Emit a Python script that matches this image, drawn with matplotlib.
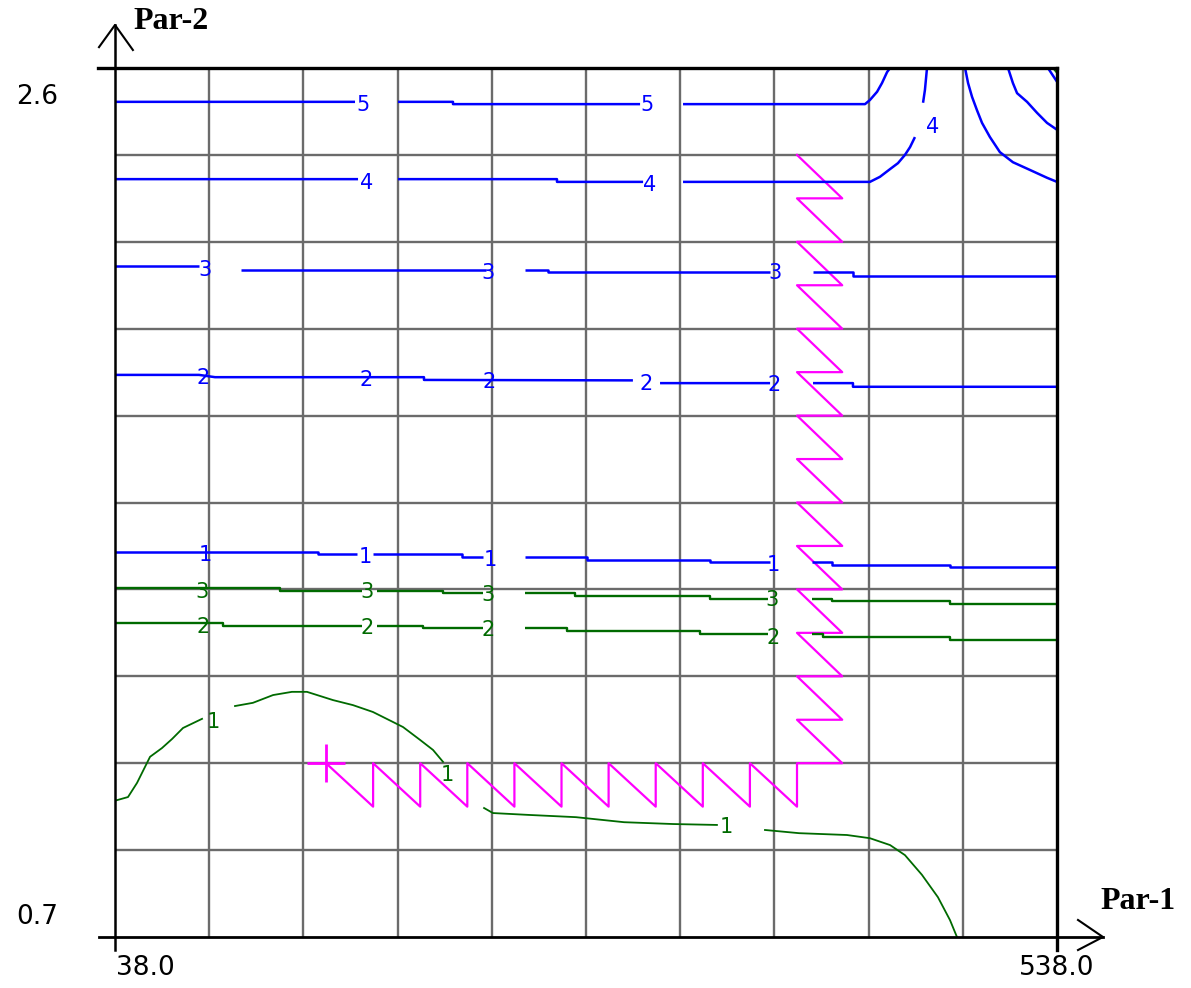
import matplotlib
matplotlib.use('Agg')
import matplotlib.pyplot as plt
import numpy as np

nan = np.nan

# ---- axis ranges / labels ----
X_MIN, X_MAX = 38.0, 538.0
Y_MIN, Y_MAX = 0.7, 2.6
x_grid = [88, 138, 188, 238, 288, 338, 388, 438, 488]
y_grid = [0.89, 1.08, 1.27, 1.46, 1.65, 1.84, 2.03, 2.22, 2.41]

# ---- blue contours (levels 1..5) ----
b5_x = [38, 165.4, nan, 188.2, 217.4, 217.4, 316.7, nan, 339.5, 436.1, 438.7, 442.5, 445.1, 447.8, 449.4]
b5_y = [2.526, 2.526, nan, 2.526, 2.526, 2.521, 2.521, nan, 2.521, 2.521, 2.530, 2.548, 2.567, 2.591, 2.6]
b5r_x = [512.0, 514.6, 516.8, 522.1, 527.4, 532.7, 538]
b5r_y = [2.6, 2.567, 2.545, 2.526, 2.502, 2.480, 2.465]

b4_x = [38, 167.0, nan, 188.2, 272.6, 272.6, 318.3, nan, 339.5, 438.7, 444.0, 449.4, 453.6,
        457.3, 460.0, 462.6, nan, 466.9, 467.9, 469.0]
b4_y = [2.357, 2.357, nan, 2.357, 2.357, 2.351, 2.351, nan, 2.351, 2.351, 2.362, 2.379, 2.392,
        2.410, 2.427, 2.449, nan, 2.524, 2.552, 2.6]
b4r_x = [489.2, 490.8, 492.9, 495.5, 498.2, 502.4, 507.7, 514.6, 523.7, 532.7, 538]
b4r_y = [2.6, 2.567, 2.537, 2.508, 2.480, 2.449, 2.416, 2.394, 2.377, 2.360, 2.351]
b6_x = [533.2, 538]
b6_y = [2.6, 2.57]

b3_x = [38, 82.6, nan, 104.9, 234.9, nan, 255.6, 267.8, 267.8, 385.7, nan, 408.5, 429.7, 429.7, 538]
b3_y = [2.166, 2.166, nan, 2.158, 2.158, nan, 2.158, 2.158, 2.153, 2.153, nan, 2.153, 2.153, 2.146, 2.146]

b2_x = [38, 82.6, 91.1, 202, 202, 312.9, nan, 327.3, 385.7, nan, 408.5, 429.7, 429.7, 538]
b2_y = [1.929, 1.929, 1.924, 1.924, 1.918, 1.917, nan, 1.911, 1.911, nan, 1.911, 1.911, 1.903, 1.903]

b1_x = [38, 145.8, 145.8, 166.5, nan, 174.9, 222.2, 222.2, 233.3, nan, 255.6, 288.5, 288.5, 353.8,
        353.8, 385.7, nan, 408, 418.6, 418.6, 481.2, 481.2, 538]
b1_y = [1.542, 1.542, 1.537, 1.537, nan, 1.537, 1.537, 1.530, 1.530, nan, 1.530, 1.530, 1.524, 1.524,
        1.519, 1.519, nan, 1.519, 1.519, 1.513, 1.513, 1.509, 1.509]

# ---- green contours (levels 1..3) ----
g3_x = [38, 125.6, 125.6, 169.1, nan, 177.1, 212.1, 212.1, 233.3, nan, 255.6, 282.2, 282.2, 353.8,
        353.8, 384.6, nan, 408, 418.6, 418.6, 481.2, 481.2, 538]
g3_y = [1.462, 1.462, 1.457, 1.457, nan, 1.457, 1.457, 1.453, 1.453, nan, 1.453, 1.453, 1.445, 1.445,
        1.440, 1.440, nan, 1.440, 1.440, 1.435, 1.435, 1.428, 1.428]

g2_x = [38, 95.3, 95.3, 169.1, nan, 177.1, 201.5, 201.5, 233.3, nan, 255.6, 277.9, 277.9, 348.5,
        348.5, 384.6, nan, 408, 413.8, 413.8, 481.2, 481.2, 538]
g2_y = [1.386, 1.386, 1.380, 1.380, nan, 1.380, 1.380, 1.375, 1.375, nan, 1.375, 1.375, 1.369, 1.369,
        1.362, 1.362, nan, 1.362, 1.362, 1.355, 1.355, 1.349, 1.349]

g1_x = [38, 44.9, 49.7, 56.6, 62.9, 68.3, 74.1, 84.2, nan,
        101.7, 111.2, 121.9, 131.9, 139.9, 153.7, 164.3, 174.9, 185.6, 190.9, 199.9, 206.8, 212.1, nan,
        233.9, 238.6, 257.2, 282.7, 308.2, 334.2, 357.5, nan,
        383.0, 401.1, 426.5, 438.7, 449.4, 457.3, 466.3, 474.8, 481.2, 484.9]
g1_y = [0.998, 1.006, 1.037, 1.094, 1.113, 1.133, 1.157, 1.177, nan,
        1.205, 1.212, 1.229, 1.236, 1.236, 1.218, 1.207, 1.192, 1.170, 1.159, 1.131, 1.109, 1.083, nan,
        0.982, 0.971, 0.967, 0.962, 0.951, 0.947, 0.945, nan,
        0.934, 0.927, 0.923, 0.916, 0.901, 0.879, 0.836, 0.787, 0.737, 0.7]
g4_x = [536.0, 538]
g4_y = [2.6, 2.59]

# ---- contour labels (x, y, text) ----
blue_lbl_x = [169.6, 320.4, 171.8, 322.0, 472.2, 85.8, 236.0, 388.3,
              84.7, 171.2, 236.5, 319.9, 387.8, 85.8, 170.7, 237.0, 387.3]
blue_lbl_y = [2.519, 2.519, 2.349, 2.345, 2.471, 2.158, 2.152, 2.152,
              1.922, 1.918, 1.913, 1.909, 1.907, 1.535, 1.531, 1.524, 1.513]
blue_lbl_t = ['5', '5', '4', '4', '4', '3', '3', '3', '2', '2', '2', '2', '2', '1', '1', '1', '1']
green_lbl_x = [84.2, 171.8, 236.0, 386.7, 84.7, 171.8, 236.0, 387.3, 90.0, 214.2, 362.3]
green_lbl_y = [1.454, 1.454, 1.448, 1.437, 1.378, 1.376, 1.371, 1.354, 1.170, 1.054, 0.940]
green_lbl_t = ['3', '3', '3', '3', '2', '2', '2', '2', '1', '1', '1']

# ---- magenta hatched boundary (corner and tooth size) ----
bnd_x0, bnd_x1 = 150, 400        # bottom edge from x0 to corner x1
bnd_y0, bnd_y1 = 1.08, 2.41      # right edge from corner y0 up to y1
tooth_dx, tooth_dy = 25, 0.095

BLUE = '#0000ff'
GREEN = '#006a00'
MAG = '#ff00ff'

fig = plt.figure(figsize=(11.91, 9.88), dpi=100)
ax = fig.add_axes([115/1191, 51/988, 942/1191, 869/988])
ax.set_xlim(X_MIN, X_MAX)
ax.set_ylim(Y_MIN, Y_MAX)
ax.set_xticks(x_grid)
ax.set_yticks(y_grid)
ax.tick_params(length=0, labelbottom=False, labelleft=False)
ax.grid(True, color='#6b6b6b', lw=1.7, zorder=0)
ax.set_axisbelow(True)
for s in ax.spines.values():
    s.set_visible(False)

# contour lines
for xs, ys in [(b5_x, b5_y), (b5r_x, b5r_y), (b4_x, b4_y), (b4r_x, b4r_y), (b6_x, b6_y),
               (b3_x, b3_y), (b2_x, b2_y), (b1_x, b1_y)]:
    ax.plot(xs, ys, color=BLUE, lw=1.8, zorder=3, solid_capstyle='butt')
for xs, ys in [(g3_x, g3_y), (g2_x, g2_y), (g4_x, g4_y)]:
    ax.plot(xs, ys, color=GREEN, lw=1.7, zorder=3, solid_capstyle='butt')
ax.plot(g1_x, g1_y, color=GREEN, lw=1.3, zorder=3)

for x, y, t in zip(blue_lbl_x, blue_lbl_y, blue_lbl_t):
    ax.text(x, y, t, color=BLUE, fontsize=15, ha='center', va='center', zorder=4)
for x, y, t in zip(green_lbl_x, green_lbl_y, green_lbl_t):
    ax.text(x, y, t, color=GREEN, fontsize=15, ha='center', va='center', zorder=4)

# magenta zigzag along the boundary
zx, zy = [bnd_x0], [bnd_y0]
xk = bnd_x0
while xk < bnd_x1 - 1e-6:
    xk += tooth_dx
    zx += [xk, xk]
    zy += [bnd_y0 - tooth_dy, bnd_y0]
yk = bnd_y0
while yk < bnd_y1 - 1e-6:
    zx += [bnd_x1 + tooth_dx * 0.96, bnd_x1]
    zy += [yk, yk + tooth_dy]
    yk += tooth_dy
ax.plot(zx, zy, color=MAG, lw=1.6, zorder=2)
ax.plot([bnd_x0], [bnd_y0], marker='+', ms=28, mew=2, color=MAG, zorder=2)

# frame and arrow axes
T = ax.transAxes
kw = dict(transform=T, clip_on=False, color='black', zorder=5)
ax.plot([-0.018, 1.0], [1.0, 1.0], lw=2.4, **kw)
ax.plot([1.0, 1.0], [-0.015, 1.0], lw=2.4, **kw)
ax.plot([0.0, 0.0], [-0.015, 1.0495], lw=1.8, **kw)
ax.plot([-0.017, 0.0, 0.019], [1.024, 1.0495, 1.0207], lw=1.5, **kw)
ax.plot([-0.017, 1.0488], [0.0, 0.0], lw=2.0, **kw)
ax.plot([1.0223, 1.0488, 1.0223], [0.0196, 0.0, -0.015], lw=1.5, **kw)

ax.text(0.0191, 1.053, 'Par-2', transform=T, fontsize=23, fontweight='bold',
        family='Liberation Serif', ha='left', va='center')
ax.text(1.0456, 0.0403, 'Par-1', transform=T, fontsize=23, fontweight='bold',
        family='Liberation Serif', ha='left', va='center')
ax.text(-0.083, 0.9666, '%.1f' % Y_MAX, transform=T, fontsize=19, ha='center', va='center')
ax.text(-0.083, 0.023, '%.1f' % Y_MIN, transform=T, fontsize=19, ha='center', va='center')
ax.text(0.0318, -0.0357, '%.1f' % X_MIN, transform=T, fontsize=19, ha='center', va='center')
ax.text(1.0, -0.0357, '%.1f' % X_MAX, transform=T, fontsize=19, ha='center', va='center')

plt.savefig('out.png', dpi=100)
